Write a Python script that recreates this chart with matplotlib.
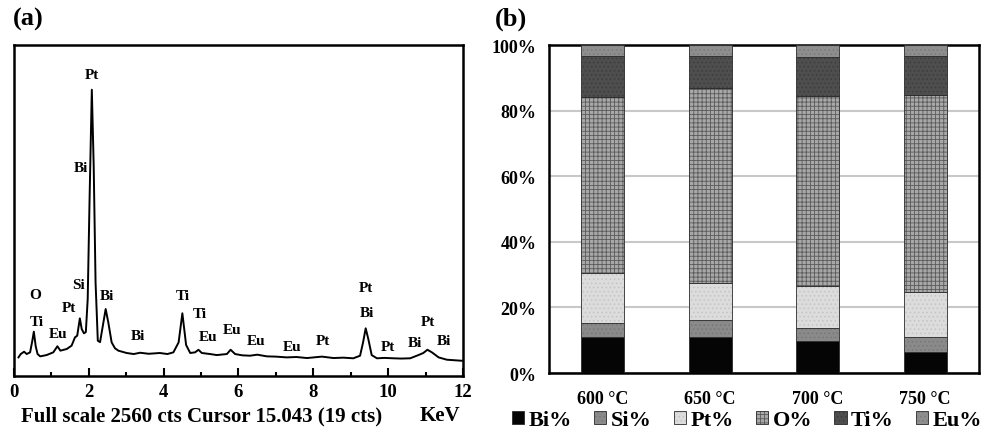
import matplotlib
matplotlib.use("Agg")
import matplotlib.pyplot as plt
import numpy as np

plt.rcParams['font.family'] = ['Liberation Serif', 'DejaVu Serif']
plt.rcParams['font.weight'] = 'bold'
plt.rcParams['hatch.linewidth'] = 0.6

# ---------------- Panel (a): EDS spectrum ----------------
energy_kev = [0.12, 0.18, 0.27, 0.34, 0.43, 0.49, 0.53, 0.58, 0.63, 0.70, 0.87, 1.05, 1.16, 1.24,
              1.41, 1.54, 1.63, 1.69, 1.76, 1.81, 1.87, 1.92, 1.97, 2.02, 2.08, 2.13, 2.18, 2.24,
              2.30, 2.39, 2.45, 2.52, 2.61, 2.70, 2.79, 3.01, 3.20, 3.37, 3.60, 3.90, 4.10, 4.26,
              4.40, 4.50, 4.60, 4.71, 4.84, 4.93, 5.02, 5.24, 5.42, 5.69, 5.79, 5.91, 6.10, 6.31,
              6.50, 6.76, 7.00, 7.29, 7.55, 7.83, 8.23, 8.54, 8.80, 9.07, 9.25, 9.33, 9.40, 9.47,
              9.56, 9.70, 9.90, 10.14, 10.35, 10.59, 10.81, 10.94, 11.05, 11.17, 11.35, 11.57, 11.97]
counts = [144, 170, 188, 170, 183, 273, 343, 230, 170, 152, 162, 183, 230, 196,
          209, 235, 299, 312, 446, 363, 330, 340, 595, 1369, 2214, 1627, 724, 273,
          262, 415, 518, 415, 260, 214, 196, 178, 170, 180, 172, 178, 170, 183,
          260, 485, 240, 178, 183, 203, 178, 170, 162, 170, 203, 170, 160, 157,
          165, 152, 150, 144, 147, 139, 150, 139, 142, 137, 157, 260, 369, 286,
          162, 137, 140, 137, 135, 137, 162, 178, 203, 183, 144, 126, 118]

peak_labels = ["Pt", "Bi", "Si", "Pt", "O", "Ti", "Eu", "Bi", "Bi", "Ti", "Ti", "Eu", "Eu",
               "Eu", "Eu", "Pt", "Pt", "Bi", "Pt", "Bi", "Pt", "Bi"]
label_x = [2.08, 1.79, 1.73, 1.48, 0.57, 0.61, 1.19, 2.49, 3.32, 4.51, 4.97, 5.20, 5.84,
           6.46, 7.43, 8.25, 9.40, 9.43, 9.99, 10.72, 11.06, 11.48]
label_y = [2328, 1609, 704, 526, 634, 425, 332, 626, 317, 619, 487, 309, 356,
           271, 232, 278, 688, 495, 232, 263, 418, 278]

xticks_a = [0, 2, 4, 6, 8, 10, 12]

# ---------------- Panel (b): composition bars ----------------
temperatures = ["600 °C", "650 °C", "700 °C", "750 °C"]
elements = ["Bi%", "Si%", "Pt%", "O%", "Ti%", "Eu%"]
bi_pct = [10.9, 10.9, 9.8, 6.3]
si_pct = [4.4, 5.4, 4.0, 4.8]
pt_pct = [15.1, 11.2, 12.6, 13.5]
o_pct = [53.7, 59.3, 58.1, 60.2]
ti_pct = [12.6, 9.9, 11.8, 11.9]
eu_pct = [3.3, 3.3, 3.7, 3.3]
yticks_b = [0, 20, 40, 60, 80, 100]

fig = plt.figure(figsize=(9.9, 4.35), dpi=100)

ax = fig.add_axes([0.01414, 0.1333, 0.4535, 0.761])
ax.plot(energy_kev, counts, color='black', lw=1.4)
for s, x, y in zip(peak_labels, label_x, label_y):
    ax.text(x, y, s, ha='center', va='center', fontsize=11, fontweight='bold')
ax.set_xlim(0, 12)
ax.set_ylim(0, 2560)
ax.set_yticks([])
ax.set_xticks(xticks_a)
ax.set_xticks([1, 3, 5, 7, 9, 11], minor=True)
ax.tick_params(axis='x', which='major', direction='in', length=6, width=1.5, pad=5,
               labelsize=13.5)
ax.tick_params(axis='x', which='minor', direction='in', length=3, width=1.5)
for lab in ax.get_xticklabels():
    lab.set_fontweight('bold')
for sp in ax.spines.values():
    sp.set_linewidth(1.8)
fig.text(0.0209, 0.0437, "Full scale 2560 cts Cursor 15.043 (19 cts)", ha='left', va='center',
         fontsize=15, fontweight='bold')
fig.text(0.4646, 0.0437, "KeV", ha='right', va='center', fontsize=15, fontweight='bold')
fig.text(0.013, 0.955, "(a)", ha='left', va='center', fontsize=19, fontweight='bold')

bx = fig.add_axes([0.5545, 0.1402, 0.4343, 0.754])
series = [bi_pct, si_pct, pt_pct, o_pct, ti_pct, eu_pct]
faces = ['#050505', '#8a8a8a', '#dcdcdc', '#a8a8a8', '#4e4e4e', '#8e8e8e']
hatches = [None, '....', '....', '++++', '....', '....']
hatch_cols = [None, '#777777', '#c4c4c4', '#5a5a5a', '#3c3c3c', '#7a7a7a']
xpos = np.arange(len(temperatures))
bottom = np.zeros(len(temperatures))
handles = []
for vals, fc, h, hc, name in zip(series, faces, hatches, hatch_cols, elements):
    bars = bx.bar(xpos, vals, bottom=bottom, width=0.4, color=fc, edgecolor='#2a2a2a',
                  linewidth=0.6, label=name, zorder=3)
    if h:
        for b in bars:
            b.set_hatch(h)
            b._hatch_color = matplotlib.colors.to_rgba(hc)
    handles.append(bars)
    bottom += np.array(vals)
bx.set_xlim(-0.5, 3.5)
bx.set_ylim(0, 100)
bx.set_yticks(yticks_b)
bx.set_yticklabels([f"{v}%" for v in yticks_b])
bx.set_xticks(xpos)
bx.set_xticklabels(temperatures)
bx.tick_params(axis='both', length=0, labelsize=13)
bx.tick_params(axis='y', pad=9)
bx.tick_params(axis='x', pad=12)
for lab in bx.get_xticklabels() + bx.get_yticklabels():
    lab.set_fontweight('bold')
bx.grid(axis='y', color='#c8c8c8', lw=1.5, zorder=0)
for sp in bx.spines.values():
    sp.set_linewidth(1.8)
fig.text(0.500, 0.955, "(b)", ha='left', va='center', fontsize=19, fontweight='bold')

leg = fig.legend(handles=handles, labels=elements, loc='center', bbox_to_anchor=(0.7545, 0.032),
                 ncol=6, frameon=False, handlelength=0.55, handleheight=0.55, handletextpad=0.2,
                 columnspacing=1.0, prop={'family': 'Liberation Serif', 'weight': 'bold', 'size': 16},
                 borderpad=0, borderaxespad=0)

fig.savefig("out.png", dpi=100)
